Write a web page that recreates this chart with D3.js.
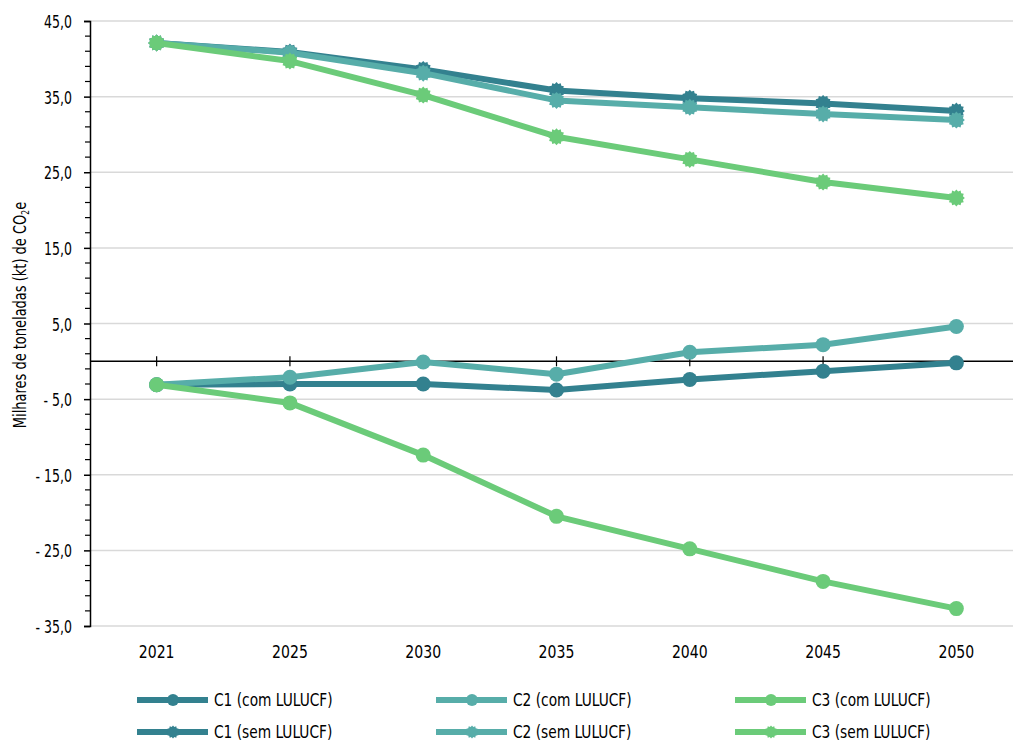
<!DOCTYPE html>
<html><head><meta charset="utf-8">
<script src="https://cdn.jsdelivr.net/npm/d3@7"></script>
<style>
body{margin:0;background:#fff;}
text{font-family:"DejaVu Sans Condensed","DejaVu Sans",sans-serif;fill:#000;}
</style></head>
<body>
<svg id="chart" width="1013" height="742"></svg>
<script>
const years = ["2021","2025","2030","2035","2040","2045","2050"];
const c1Com = [-3.1, -3.0, -3.0, -3.8, -2.4, -1.3, -0.2];
const c2Com = [-3.1, -2.1, -0.1, -1.7, 1.2, 2.2, 4.6];
const c3Com = [-3.1, -5.5, -12.4, -20.5, -24.8, -29.1, -32.7];
const c1Sem = [42.1, 40.9, 38.6, 35.8, 34.8, 34.1, 33.1];
const c2Sem = [42.1, 40.8, 38.1, 34.5, 33.6, 32.7, 31.9];
const c3Sem = [42.1, 39.7, 35.2, 29.7, 26.7, 23.7, 21.6];
const yTickValues = [45, 35, 25, 15, 5, -5, -15, -25, -35];
const seriesNames = ["C1 (com LULUCF)","C2 (com LULUCF)","C3 (com LULUCF)","C1 (sem LULUCF)","C2 (sem LULUCF)","C3 (sem LULUCF)"];

const colors = {C1:"#33818f", C2:"#57ada9", C3:"#6bcb79"};
const series = [
  {name:seriesNames[0], values:c1Com, color:colors.C1, marker:"circle"},
  {name:seriesNames[1], values:c2Com, color:colors.C2, marker:"circle"},
  {name:seriesNames[2], values:c3Com, color:colors.C3, marker:"circle"},
  {name:seriesNames[3], values:c1Sem, color:colors.C1, marker:"star"},
  {name:seriesNames[4], values:c2Sem, color:colors.C2, marker:"star"},
  {name:seriesNames[5], values:c3Sem, color:colors.C3, marker:"star"}
];

const svg = d3.select("#chart");
const plotL = 90, plotR = 1023, plotT = 21, plotB = 626;
const x = d3.scalePoint().domain(years).range([plotL, plotR]).padding(0.5);
const y = d3.scaleLinear().domain([-35, 45]).range([plotB, plotT]);
const SX = 0.82;

// gridlines
svg.append("g").selectAll("line").data(yTickValues).join("line")
  .attr("x1", plotL).attr("x2", 1013)
  .attr("y1", d => y(d)).attr("y2", d => y(d))
  .attr("stroke", "#d9d9d9").attr("stroke-width", 1.5);

// y axis
const fmt = d => (d < 0 ? "- " + Math.abs(d).toFixed(1) : d.toFixed(1)).replace(".", ",");
const yAxis = svg.append("g").attr("transform", `translate(${plotL},0)`)
  .call(d3.axisLeft(y).tickValues(yTickValues).tickFormat("").tickSize(6));
yAxis.select(".domain").attr("stroke", "#000").attr("stroke-width", 1.5);
yAxis.selectAll(".tick line").attr("stroke", "#000").attr("stroke-width", 1.5);
svg.append("g").selectAll("text").data(yTickValues).join("text")
  .attr("transform", d => `translate(72,${y(d) + 7}) scale(${SX},1)`)
  .attr("text-anchor", "end").attr("font-size", 17).text(fmt);
// minor ticks
const minor = d3.range(-35, 45.01, 2).filter(v => !yTickValues.includes(v));
svg.append("g").selectAll("line").data(minor).join("line")
  .attr("x1", plotL - 5).attr("x2", plotL)
  .attr("y1", d => y(d)).attr("y2", d => y(d))
  .attr("stroke", "#000").attr("stroke-width", 1.2);

// zero line with category ticks
const xAxis = svg.append("g").attr("transform", `translate(0,${y(0)})`)
  .call(d3.axisBottom(x).tickSize(0).tickFormat(""));
xAxis.select(".domain").attr("d", `M${plotL},0H1013`).attr("stroke", "#000").attr("stroke-width", 1.5);
svg.append("g").selectAll("line").data(years).join("line")
  .attr("x1", d => x(d)).attr("x2", d => x(d))
  .attr("y1", y(0) - 5).attr("y2", y(0) + 5)
  .attr("stroke", "#000").attr("stroke-width", 1.2);

// x labels
svg.append("g").selectAll("text").data(years).join("text")
  .attr("transform", d => `translate(${x(d)},658) scale(0.92,1)`)
  .attr("text-anchor", "middle").attr("font-size", 17).text(d => d);

// y title
const yt = svg.append("text")
  .attr("transform", `translate(26,315) rotate(-90) scale(0.85,1)`)
  .attr("text-anchor", "middle").attr("font-size", 17);
yt.append("tspan").text("Milhares de toneladas (kt) de CO");
yt.append("tspan").attr("font-size", 10).attr("dy", 3).text("2");
yt.append("tspan").attr("dy", -3).text("e");

// star marker path
function starPath(r) {
  const pts = [];
  const n = 12;
  for (let i = 0; i < n * 2; i++) {
    pts.push([i * Math.PI / n, i % 2 === 0 ? r : r * 0.8]);
  }
  return d3.lineRadial().curve(d3.curveLinearClosed)(pts);
}

const line = d3.line().x((d, i) => x(years[i])).y(d => y(d));
series.forEach(s => {
  const g = svg.append("g");
  g.append("path").attr("d", line(s.values)).attr("fill", "none")
    .attr("stroke", s.color).attr("stroke-width", 6).attr("stroke-linejoin", "round");
  if (s.marker === "circle") {
    g.selectAll("circle").data(s.values).join("circle")
      .attr("cx", (d, i) => x(years[i])).attr("cy", d => y(d)).attr("r", 7.5)
      .attr("fill", s.color);
  } else {
    g.selectAll("path.m").data(s.values).join("path").attr("class", "m")
      .attr("transform", (d, i) => `translate(${x(years[i])},${y(d)})`)
      .attr("d", starPath(8.5)).attr("fill", s.color);
  }
});

// legend
const legX = [137, 436, 735];
const legY = [700, 732];
series.forEach((s, i) => {
  const col = i % 3, row = Math.floor(i / 3);
  const lx = legX[col], ly = legY[row];
  const g = svg.append("g").attr("transform", `translate(${lx},${ly})`);
  g.append("line").attr("x1", 0).attr("x2", 71).attr("y1", 0).attr("y2", 0)
    .attr("stroke", s.color).attr("stroke-width", 6);
  if (s.marker === "circle") {
    g.append("circle").attr("cx", 36).attr("cy", 0).attr("r", 6).attr("fill", s.color);
  } else {
    g.append("path").attr("transform", "translate(36,0)").attr("d", starPath(6.5)).attr("fill", s.color);
  }
  g.append("text").attr("transform", `translate(77,6) scale(0.9,1)`)
    .attr("font-size", 17).text(s.name);
});
</script>
</body></html>
